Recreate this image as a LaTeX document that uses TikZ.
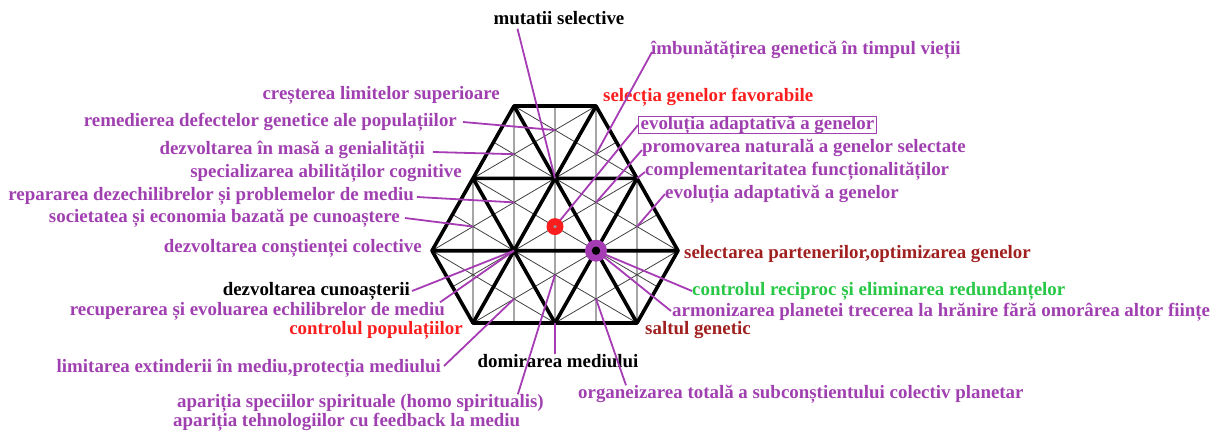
\documentclass[tikz,border=0pt]{standalone}
\usepackage{fontspec}
\setmainfont{Liberation Serif}
\usetikzlibrary{calc}
\definecolor{pur}{RGB}{160,64,176}
\definecolor{lead}{RGB}{165,60,180}
\definecolor{red1}{RGB}{250,30,30}
\definecolor{dred}{RGB}{160,32,32}
\definecolor{grn}{RGB}{40,200,70}
\tikzset{
  lbl/.style={font=\fontsize{18.9}{22}\selectfont\bfseries, inner sep=0pt, text height=13pt, text depth=4pt},
  plbl/.style={lbl, text=pur},
  leader/.style={draw=lead, line width=1.8pt},
  thick lattice/.style={line width=3.6pt, line join=round, line cap=round, black},
  galt/.style={line width=1.6pt, black!35},
  talt/.style={line width=0.8pt, black!75},
}
\begin{document}
\begin{tikzpicture}[x=1pt,y=-1pt]
\useasboundingbox (0,0) rectangle (1220,433);
% lattice vertices
\coordinate (T1) at (514,106);   \coordinate (T2) at (596,106);
\coordinate (A1) at (473,178.3); \coordinate (A2) at (555,178.3); \coordinate (A3) at (637,178.3);
\coordinate (B0) at (432,250.7); \coordinate (B1) at (514,250.7); \coordinate (B2) at (596,250.7); \coordinate (B3) at (678,250.7);
\coordinate (C1) at (473,323);   \coordinate (C2) at (555,323);   \coordinate (C3) at (637,323);
% centroids
\coordinate (gT1) at (514,154.2); \coordinate (gT2) at (555,130.1); \coordinate (gT3) at (596,154.2);
\coordinate (gM1) at (473,226.6); \coordinate (gM2) at (514,202.4); \coordinate (gM3) at (555,226.6);
\coordinate (gM4) at (596,202.4); \coordinate (gM5) at (637,226.6);
\coordinate (gB2) at (514,298.9); \coordinate (gB3) at (555,274.8); \coordinate (gB4) at (596,298.9);
% altitudes of each triangle (apex last)
\foreach \p/\q/\r in {A1/A2/T1, T1/T2/A2, A2/A3/T2,
                      B0/B1/A1, A1/A2/B1, B1/B2/A2, A2/A3/B2, B2/B3/A3,
                      B0/B1/C1, C1/C2/B1, B1/B2/C2, C2/C3/B2, B2/B3/C3} {
  \draw[galt] (\r) -- ($(\p)!0.5!(\q)$);
  \draw[talt] (\p) -- ($(\q)!0.5!(\r)$) (\q) -- ($(\p)!0.5!(\r)$);
}
% thick lattice
\draw[thick lattice] (T1) -- (T2) (A1) -- (A3) (B0) -- (B3) (C1) -- (C3)
  (B0) -- (T1) (C1) -- (T2) (C2) -- (A3) (C3) -- (B3)
  (T1) -- (C3) (T2) -- (B3) (A1) -- (C2) (B0) -- (C1);
% labels left
\node[plbl, anchor=east] (cres) at (500,95) {creșterea limitelor superioare};
\node[plbl, anchor=east] (remed) at (457,122) {remedierea defectelor genetice ale populațiilor};
\node[plbl, anchor=east] (masa) at (425,150) {dezvoltarea în masă a genialității};
\node[plbl, anchor=east] (spec) at (462,173) {specializarea abilităților cognitive};
\node[plbl, anchor=east] (repar) at (414,196) {repararea dezechilibrelor și problemelor de mediu};
\node[plbl, anchor=east] (socie) at (400,218) {societatea și economia bazată pe cunoaștere};
\node[plbl, anchor=east] (consti) at (422,248) {dezvoltarea conștienței colective};
\node[lbl, anchor=east] (cuno) at (410,291) {dezvoltarea cunoașterii};
\node[plbl, anchor=east] (recup) at (445,311) {recuperarea și evoluarea echilibrelor de mediu};
\node[lbl, text=red1, anchor=east] (ctrlpop) at (463,330) {controlul populațiilor};
\node[plbl, anchor=east] (limit) at (441,368) {limitarea extinderii în mediu,protecția mediului};
\node[plbl, anchor=west] (spir) at (177,403) {apariția speciilor spirituale (homo spiritualis)};
\node[plbl, anchor=west] (tehno) at (173,422) {apariția tehnologiilor cu feedback la mediu};
% top
\node[lbl] (mut) at (559,20) {mutatii selective};
% labels right
\node[plbl, anchor=west] (imb) at (651,50) {îmbunătățirea genetică în timpul vieții};
\node[lbl, text=red1, anchor=west] (selg) at (603,97) {selecția genelor favorabile};
\node[plbl, anchor=west, draw=pur, line width=1.3pt, inner xsep=2pt] (box) at (638,125) {evoluția adaptativă a genelor};
\node[plbl, anchor=west] (prom) at (642,148) {promovarea naturală a genelor selectate};
\node[plbl, anchor=west] (compl) at (645,171) {complementaritatea funcționalităților};
\node[plbl, anchor=west] (evol) at (665,194) {evoluția adaptativă a genelor};
\node[lbl, text=dred, anchor=west] (selp) at (684,254) {selectarea partenerilor,optimizarea genelor};
\node[lbl, text=grn, anchor=west] (recip) at (692,291) {controlul reciproc și eliminarea redundanțelor};
\node[plbl, anchor=west] (armon) at (672,312) {armonizarea planetei trecerea la hrănire fără omorârea altor ființe};
\node[lbl, text=dred, anchor=west] (salt) at (645,330) {saltul genetic};
\node[lbl] (dom) at (558,363) {domirarea mediului};
\node[plbl, anchor=west] (org) at (578,394) {organeizarea totală a subconștientului colectiv planetar};
% leaders
\draw[leader] ($(mut.south west)+(24,0)$) -- (A2);
\draw[leader] ($(imb.west)+(1,2)$) -- (gT3);
\draw[leader] ($(remed.east)+(6,0)$) -- (gT2);
\draw[leader] ($(masa.east)+(8,2)$) -- (gT1);
\draw[leader] ($(repar.east)+(3,1)$) -- (gM2);
\draw[leader] ($(socie.east)+(5,0)$) -- (gM1);
\draw[leader] (box.west) -- (gM3);
\draw[leader] ($(prom.west)+(0,2)$) -- (gM4);
\draw[leader] ($(compl.west)+(0,1)$) -- (A3);
\draw[leader] (evol.west) -- (gM5);
\draw[leader] ($(cuno.east)+(2,0)$) -- (B1);
\draw[leader] ($(recup.north east)+(-5,0)$) -- (B1);
\draw[leader] ($(limit.east)+(3,-2)$) -- (gB2);
\draw[leader] ($(spir.north east)+(-26,0)$) -- (gB3);
\draw[leader] ($(dom.north)+(-3,0)$) -- (C2);
\draw[leader] ($(org.north west)+(48,0)$) -- (gB4);
\draw[leader] (B2) -- (recip.west);
\draw[leader] (B2) -- ($(armon.west)+(-1,-1)$);
% dots
\fill[red1] (gM3) circle (8.5);
\fill[black!40] (gM3) circle (1.8);
\fill[lead] (B2) circle (11);
\fill[black] (B2) circle (4.2);
\end{tikzpicture}
\end{document}
